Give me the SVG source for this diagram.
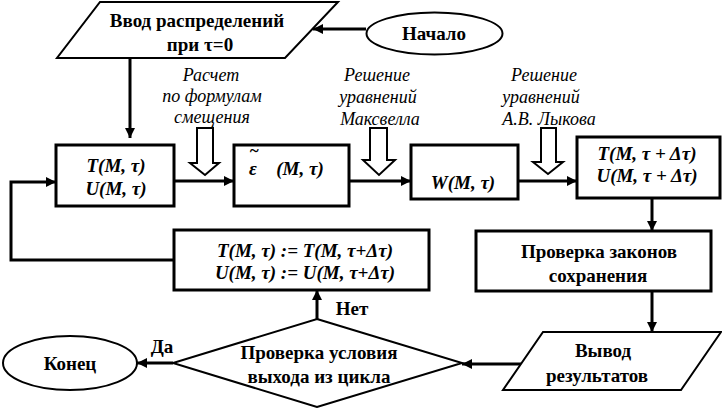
<svg xmlns="http://www.w3.org/2000/svg" width="722" height="408" viewBox="0 0 722 408">
<defs>
<marker id="ah" viewBox="0 0 10 10" refX="10" refY="5" markerWidth="10" markerHeight="10" markerUnits="userSpaceOnUse" orient="auto">
<path d="M0,0 L10,5 L0,10 z" fill="#000"/>
</marker>
</defs>
<style>
.box{fill:#fff;stroke:#000;stroke-width:3}
.thin{fill:#fff;stroke:#000;stroke-width:2}
.b{font-family:'Liberation Serif','Times New Roman',serif;font-weight:bold;font-size:19px;text-anchor:middle;fill:#000}
.bi{font-family:'Liberation Serif','Times New Roman',serif;font-weight:bold;font-style:italic;font-size:19px;text-anchor:middle;fill:#000}
.i{font-family:'Liberation Serif','Times New Roman',serif;font-style:italic;font-size:18px;text-anchor:middle;fill:#000}
.c{fill:none;stroke:#000;stroke-width:3}
.h{fill:#fff;stroke:#000;stroke-width:2}
</style>
<rect width="722" height="408" fill="#fff"/>

<g id="connectors">
<path class="c" d="M366,29 L313,29" marker-end="url(#ah)"/>
<path class="c" d="M130,59 L130,138" marker-end="url(#ah)"/>
<path class="c" d="M174,181 L234,181" marker-end="url(#ah)"/>
<path class="c" d="M349,181 L411,181" marker-end="url(#ah)"/>
<path class="c" d="M518,181 L577,181" marker-end="url(#ah)"/>
<path class="c" d="M652,198 L652,231" marker-end="url(#ah)"/>
<path class="c" d="M652,291 L652,332" marker-end="url(#ah)"/>
<path class="c" d="M521,364 L462,364" marker-end="url(#ah)"/>
<path class="c" d="M317,319 L317,290" marker-end="url(#ah)"/>
<path class="c" d="M173,363 L137,363" marker-end="url(#ah)"/>
<path class="c" d="M174,260 L11,260 L11,182 L56,182" marker-end="url(#ah)"/>
<polygon class="h" points="197,128 213,128 213,163 219,163 205,175 190,163 197,163"/>
<polygon class="h" points="370,128 387,128 387,160 395,160 379,175 363,160 370,160"/>
<polygon class="h" points="541,128 556,128 556,162 563,162 548,174 533,162 541,162"/>
<text class="i" x="211" y="81">Расчет</text>
<text class="i" x="212" y="102">по формулам</text>
<text class="i" x="212" y="123">смещения</text>
<text class="i" x="377" y="81">Решение</text>
<text class="i" x="378" y="103">уравнений</text>
<text class="i" x="380" y="125">Максвелла</text>
<text class="i" x="544" y="81">Решение</text>
<text class="i" x="541" y="103">уравнений</text>
<text class="i" x="549" y="125">А.В. Лыкова</text>
<text class="b" x="352" y="315">Нет</text>
<text class="b" x="162" y="353">Да</text>
</g>

<g id="start">
<ellipse class="thin" cx="434.5" cy="33.5" rx="68" ry="21"/>
<text class="b" x="434" y="40">Начало</text>
</g>

<g id="input">
<polygon class="thin" points="100,2 338,2 285,58 57,58"/>
<text class="b" x="197" y="27">Ввод распределений</text>
<text class="b" x="200" y="51">при τ=0</text>
</g>

<g id="tu">
<rect class="box" x="56" y="145" width="118" height="61"/>
<text class="bi" x="116" y="172">T(M, τ)</text>
<text class="bi" x="116" y="195">U(M, τ)</text>
</g>

<g id="eps">
<rect class="box" x="234" y="145" width="115" height="61"/>
<text class="bi" x="300" y="175">(M, τ)</text>
<text class="bi" x="253" y="175">ε</text>
<text class="bi" x="254" y="156" style="font-size:17px">~</text>
</g>

<g id="w">
<rect class="box" x="411" y="145" width="107" height="54"/>
<text class="bi" x="463" y="189">W(M, τ)</text>
</g>

<g id="tu2">
<rect class="box" x="577" y="137" width="143" height="61"/>
<text class="bi" x="647" y="160">T(M, τ + Δτ)</text>
<text class="bi" x="647" y="182">U(M, τ + Δτ)</text>
</g>

<g id="check">
<rect class="box" x="476" y="231" width="235" height="60"/>
<text class="b" x="599" y="258">Проверка законов</text>
<text class="b" x="598" y="282">сохранения</text>
</g>

<g id="output">
<polygon class="thin" points="543,332 721,332 681,390 503,390"/>
<text class="b" x="603" y="357">Вывод</text>
<text class="b" x="597" y="382">результатов</text>
</g>

<g id="assign">
<rect class="box" x="174" y="230" width="255" height="60"/>
<text class="bi" x="305" y="257">T(M, τ) := T(M, τ+Δτ)</text>
<text class="bi" x="305" y="279">U(M, τ) := U(M, τ+Δτ)</text>
</g>

<g id="decision">
<polygon class="thin" points="317,319 462,363 317,407 173,363"/>
<text class="b" x="319" y="359">Проверка условия</text>
<text class="b" x="319" y="383">выхода из цикла</text>
</g>

<g id="end">
<ellipse class="thin" cx="70" cy="363" rx="67" ry="27"/>
<text class="b" x="70" y="370">Конец</text>
</g>
</svg>
